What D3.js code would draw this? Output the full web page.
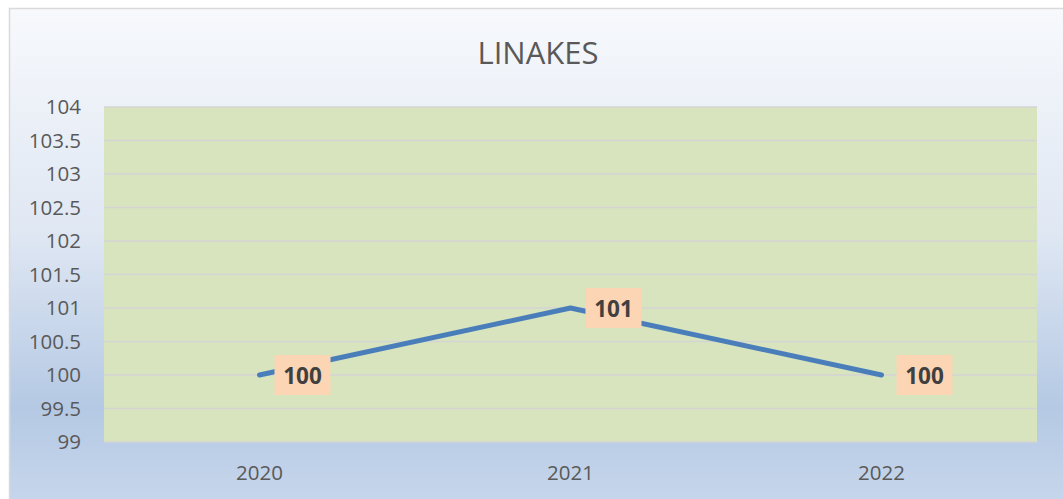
<!DOCTYPE html>
<html>
<head>
<meta charset="utf-8">
<script src="https://cdn.jsdelivr.net/npm/d3@7"></script>
<style>
  body { margin: 0; background: #fff; }
  svg { display: block; }
</style>
</head>
<body>
<div class="chart"></div>
<script>
// Data
const years = ['2020', '2021', '2022'];
const values = [100, 101, 100];
const yTicks = [99, 99.5, 100, 100.5, 101, 101.5, 102, 102.5, 103, 103.5, 104];
const title = 'LINAKES';

const W = 1063, H = 499;
const plot = { left: 104, right: 1037, top: 107, bottom: 442 };

const svg = d3.select('.chart')
  .append('svg')
  .attr('width', W)
  .attr('height', H);

// background gradient of the chart area
const defs = svg.append('defs');
const grad = defs.append('linearGradient')
  .attr('id', 'bg')
  .attr('x1', 0).attr('y1', 0).attr('x2', 0).attr('y2', 1);
grad.append('stop').attr('offset', '0%').attr('stop-color', '#f7f9fc');
grad.append('stop').attr('offset', '45%').attr('stop-color', '#dfe7f3');
grad.append('stop').attr('offset', '80%').attr('stop-color', '#b5c9e4');
grad.append('stop').attr('offset', '100%').attr('stop-color', '#c7d7ec');

svg.append('rect')
  .attr('x', 9.5).attr('y', 8.5)
  .attr('width', W + 10).attr('height', H)
  .attr('fill', 'url(#bg)')
  .attr('stroke', '#d9d9d9')
  .attr('stroke-width', 1.5);

// plot area
svg.append('rect')
  .attr('x', plot.left).attr('y', plot.top)
  .attr('width', plot.right - plot.left)
  .attr('height', plot.bottom - plot.top)
  .attr('fill', '#d7e4bd');

// Scales
const x = d3.scaleBand()
  .domain(years)
  .range([plot.left, plot.right]);

const y = d3.scaleLinear()
  .domain([99, 104])
  .range([plot.bottom, plot.top]);

// gridlines
svg.append('g')
  .selectAll('line')
  .data(yTicks)
  .enter()
  .append('line')
  .attr('x1', plot.left)
  .attr('x2', plot.right)
  .attr('y1', d => y(d))
  .attr('y2', d => y(d))
  .attr('stroke', '#d4d4d4')
  .attr('stroke-width', 1.5);

// y axis labels
const yAxis = d3.axisLeft(y)
  .tickValues(yTicks)
  .tickSize(0)
  .tickPadding(23)
  .tickFormat(d3.format('~g'));

svg.append('g')
  .attr('transform', `translate(${plot.left},0)`)
  .call(yAxis)
  .call(g => g.select('.domain').remove())
  .selectAll('text')
  .attr('fill', '#595959')
  .style('font-family', '"Open Sans", sans-serif')
  .style('font-size', '20.5px');

// x axis labels
const xAxis = d3.axisBottom(x).tickSize(0).tickPadding(23);

svg.append('g')
  .attr('transform', `translate(0,${plot.bottom})`)
  .call(xAxis)
  .call(g => g.select('.domain').remove())
  .selectAll('text')
  .attr('fill', '#595959')
  .style('font-family', '"Open Sans", sans-serif')
  .style('font-size', '20.5px');

// line
const line = d3.line()
  .x((d, i) => x(years[i]) + x.bandwidth() / 2)
  .y(d => y(d));

svg.append('path')
  .datum(values)
  .attr('d', line)
  .attr('fill', 'none')
  .attr('stroke', '#4a7ebb')
  .attr('stroke-width', 5)
  .attr('stroke-linecap', 'round')
  .attr('stroke-linejoin', 'round');

// data labels
const labels = svg.append('g')
  .selectAll('g')
  .data(values)
  .enter()
  .append('g')
  .attr('transform', (d, i) => `translate(${x(years[i]) + x.bandwidth() / 2 + 15},${y(d) - 20})`);

labels.append('rect')
  .attr('width', 56)
  .attr('height', 40)
  .attr('fill', '#fcd5b5');

labels.append('text')
  .attr('x', 28)
  .attr('y', 28.5)
  .attr('text-anchor', 'middle')
  .attr('fill', '#404040')
  .style('font-family', '"Open Sans", sans-serif')
  .style('font-weight', 'bold')
  .style('font-size', '22.5px')
  .text(d => d);

// title
svg.append('text')
  .attr('x', 538)
  .attr('y', 64)
  .attr('text-anchor', 'middle')
  .attr('fill', '#595959')
  .style('font-family', '"Open Sans", sans-serif')
  .style('font-size', '31px')
  .text(title);
</script>
</body>
</html>
